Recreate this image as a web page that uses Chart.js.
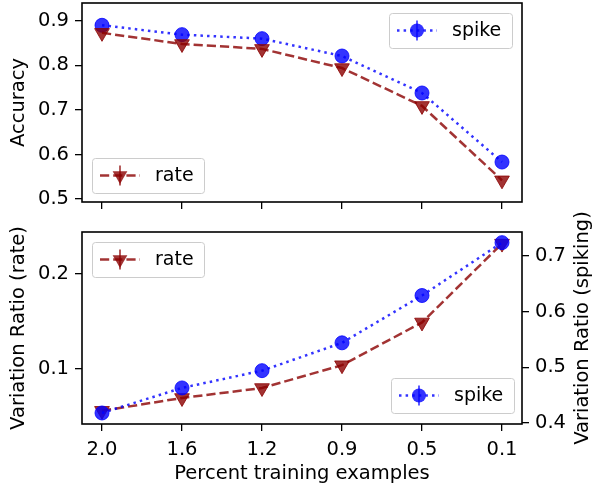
<!DOCTYPE html>
<html>
<head>
<meta charset="utf-8">
<script src="https://cdn.jsdelivr.net/npm/chart.js@4"></script>
<style>
  body { margin: 0; background: #fff; }
  canvas { position: absolute; left: 0; }
</style>
</head>
<body>
<canvas id="accChart" width="597" height="225" style="top:0"></canvas>
<canvas id="varChart" width="597" height="288" style="top:200px"></canvas>
<script>
/* Values */
const percentLabels = ['2.0', '1.6', '1.2', '0.9', '0.5', '0.1'];
const accuracySpike = [0.890, 0.869, 0.860, 0.821, 0.738, 0.583];
const accuracyRate = [0.873, 0.848, 0.837, 0.794, 0.709, 0.542];
const variationRate = [0.056, 0.0695, 0.080, 0.104, 0.149, 0.232];
const variationSpike = [0.418, 0.463, 0.494, 0.544, 0.629, 0.724];

const accuracyTicks = [0.5, 0.6, 0.7, 0.8, 0.9];
const rateTicks = [0.1, 0.2];
const spikeTicks = [0.4, 0.5, 0.6, 0.7];

const FONT = 'DejaVu Sans';
const FONT_SIZE = 19.5;
const LEGEND_SIZE = 19;
const SPIKE_COLOR = 'rgba(0,0,255,0.8)';
const RATE_COLOR = 'rgba(139,0,0,0.8)';

Chart.defaults.font.family = FONT;
Chart.defaults.font.size = FONT_SIZE;
Chart.defaults.color = '#000';
Chart.defaults.animation = false;

const toPoints = values => values.map((v, i) => ({ x: i, y: v }));

function spikeDataset(values, axis) {
    return {
        label: 'spike',
        data: toPoints(values),
        yAxisID: axis,
        borderColor: SPIKE_COLOR,
        borderWidth: 2.5,
        borderDash: [2.5, 4.1],
        pointStyle: 'circle',
        pointRadius: 7,
        pointBackgroundColor: SPIKE_COLOR,
        pointBorderColor: SPIKE_COLOR,
        pointBorderWidth: 1,
        fill: false,
        tension: 0
    };
}

function rateDataset(values, axis) {
    return {
        label: 'rate',
        data: toPoints(values),
        yAxisID: axis,
        borderColor: RATE_COLOR,
        borderWidth: 2.5,
        borderDash: [9.2, 4],
        pointStyle: 'triangle',
        pointRotation: 180,
        pointRadius: 8.5,
        pointBackgroundColor: RATE_COLOR,
        pointBorderColor: RATE_COLOR,
        pointBorderWidth: 1,
        fill: false,
        tension: 0
    };
}

/* Forces an axis box to a fixed size so the plot areas line up */
const fixWidth = w => scale => {
    scale.width = w;
    scale.paddingTop = 0;
    scale.paddingBottom = 0;
};
const fixHeight = h => scale => {
    scale.height = h;
    scale.paddingLeft = 0;
    scale.paddingRight = 0;
};
const setTicks = values => scale => { scale.ticks = values.map(v => ({ value: v })); };

const tickGrid = { display: true, drawOnChartArea: false, drawTicks: true, tickLength: 7, color: '#000', lineWidth: 1.3 };

function xAxis(showLabels, height) {
    return {
        type: 'linear',
        min: -0.25,
        max: 5.25,
        afterBuildTicks: setTicks(percentLabels.map((_, i) => i)),
        afterFit: fixHeight(height),
        grid: tickGrid,
        border: { display: false },
        ticks: {
            padding: 7,
            maxRotation: 0,
            callback: value => showLabels ? percentLabels[value] : ''
        },
        title: {
            display: showLabels,
            text: 'Percent training examples',
            padding: { top: 0, bottom: 2 }
        }
    };
}

function yAxis(position, min, max, tickValues, width, label, titlePad) {
    return {
        type: 'linear',
        position: position,
        min: min,
        max: max,
        afterBuildTicks: setTicks(tickValues),
        afterFit: fixWidth(width),
        grid: tickGrid,
        border: { display: false },
        ticks: { padding: 6, callback: value => value.toFixed(1) },
        // right-hand title is drawn by rightTitle below (reads bottom to top)
        title: { display: position === 'left', text: label, padding: { top: titlePad, bottom: 0 } }
    };
}

/* Draws the full black box round the plot area */
const framePlugin = {
    id: 'frame',
    afterDraw(chart) {
        const { ctx, chartArea: a } = chart;
        ctx.save();
        ctx.strokeStyle = '#000';
        ctx.lineWidth = 1.6;
        ctx.strokeRect(a.left, a.top, a.right - a.left, a.bottom - a.top);
        ctx.restore();
    }
};

/* Title of the right axis, rotated like the left one */
const rightTitle = {
    id: 'rightTitle',
    afterDraw(chart) {
        const { ctx, chartArea: a } = chart;
        const scale = chart.scales.yR;
        ctx.save();
        ctx.translate(scale.right - 9, (a.top + a.bottom) / 2);
        ctx.rotate(-Math.PI / 2);
        ctx.fillStyle = '#000';
        ctx.font = FONT_SIZE + 'px "' + FONT + '"';
        ctx.textAlign = 'center';
        ctx.textBaseline = 'alphabetic';
        ctx.fillText('Variation Ratio (spiking)', 0, 0);
        ctx.restore();
    }
};

function drawMarker(ctx, ds, x, y) {
    ctx.fillStyle = ds.pointBackgroundColor;
    ctx.beginPath();
    if (ds.pointStyle === 'circle') {
        ctx.arc(x, y, ds.pointRadius, 0, Math.PI * 2);
    } else {
        const r = ds.pointRadius;
        ctx.moveTo(x - r * 0.866, y - r * 0.5);
        ctx.lineTo(x + r * 0.866, y - r * 0.5);
        ctx.lineTo(x, y + r);
        ctx.closePath();
    }
    ctx.fill();
}

/* Legend boxes placed inside the plot area corners, one entry each */
function cornerLegends(specs) {
    return {
        id: 'cornerLegends',
        afterDatasetsDraw(chart) {
            const { ctx, chartArea: a } = chart;
            specs.forEach(spec => {
                const ds = chart.data.datasets[spec.ds];
                const h = 35;
                const bx = spec.corner[1] === 'l' ? a.left + spec.mx : a.right - spec.mx - spec.w;
                const by = spec.corner[0] === 't' ? a.top + spec.my : a.bottom - spec.my - h;
                const cy = by + h / 2;

                ctx.save();
                ctx.beginPath();
                ctx.roundRect(bx + 0.5, by + 0.5, spec.w, h, 3);
                ctx.fillStyle = 'rgba(255,255,255,0.8)';
                ctx.fill();
                ctx.strokeStyle = '#cccccc';
                ctx.lineWidth = 1;
                ctx.stroke();

                // line sample
                ctx.beginPath();
                ctx.setLineDash(ds.borderDash);
                ctx.strokeStyle = ds.borderColor;
                ctx.lineWidth = ds.borderWidth;
                ctx.moveTo(bx + 8, cy);
                ctx.lineTo(bx + 48, cy);
                ctx.stroke();
                ctx.setLineDash([]);

                // error bar + marker
                ctx.beginPath();
                ctx.moveTo(bx + 28, cy - 10);
                ctx.lineTo(bx + 28, cy + 10);
                ctx.lineWidth = 1.6;
                ctx.stroke();
                drawMarker(ctx, ds, bx + 28, cy);

                ctx.fillStyle = '#000';
                ctx.font = LEGEND_SIZE + 'px "' + FONT + '"';
                ctx.textBaseline = 'middle';
                ctx.textAlign = 'left';
                ctx.fillText(ds.label, bx + 63, cy + 1);
                ctx.restore();
            });
        }
    };
}

/* Top panel: accuracy */
new Chart(document.getElementById('accChart'), {
    type: 'line',
    data: {
        datasets: [rateDataset(accuracyRate, 'y'), spikeDataset(accuracySpike, 'y')]
    },
    options: {
        responsive: false,
        layout: { autoPadding: false, padding: { top: 3, right: 75, left: 0, bottom: 0 } },
        plugins: { legend: { display: false }, tooltip: { enabled: false } },
        scales: {
            x: xAxis(false, 23),
            y: yAxis('left', 0.4933, 0.940, accuracyTicks, 82, 'Accuracy', 7)
        }
    },
    plugins: [framePlugin, cornerLegends([
        { ds: 1, corner: 'tr', mx: 10, my: 10, w: 123 },
        { ds: 0, corner: 'bl', mx: 10, my: 9, w: 112 }
    ])]
});

/* Bottom panel: variation ratio, twin y axes; canvas starts a little higher so
   the long right-hand title has room (its empty top is transparent) */
new Chart(document.getElementById('varChart'), {
    type: 'line',
    data: {
        datasets: [spikeDataset(variationSpike, 'yR'), rateDataset(variationRate, 'yL')]
    },
    options: {
        responsive: false,
        layout: { autoPadding: false, padding: { top: 32, right: 0, left: 0, bottom: 0 } },
        plugins: { legend: { display: false }, tooltip: { enabled: false } },
        scales: {
            x: xAxis(true, 64),
            yL: yAxis('left', 0.0421, 0.2442, rateTicks, 82, 'Variation Ratio (rate)', 7),
            yR: yAxis('right', 0.3982, 0.7431, spikeTicks, 75, 'Variation Ratio (spiking)', 0)
        }
    },
    plugins: [framePlugin, rightTitle, cornerLegends([
        { ds: 1, corner: 'tl', mx: 10, my: 10, w: 112 },
        { ds: 0, corner: 'br', mx: 8, my: 11, w: 123 }
    ])]
});
</script>
</body>
</html>
